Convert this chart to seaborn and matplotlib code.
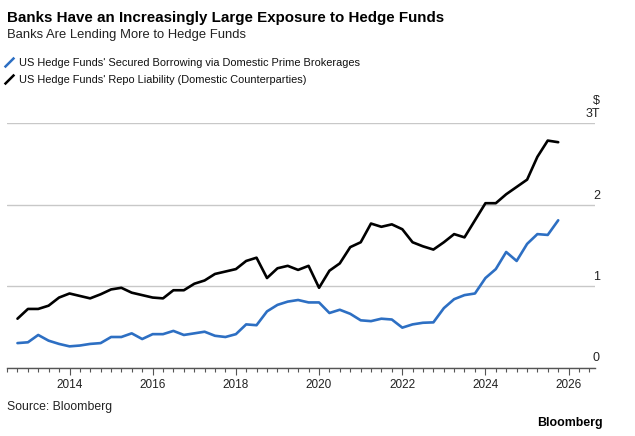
import pandas as pd
import numpy as np
import seaborn as sns
import matplotlib.pyplot as plt
import matplotlib.dates as mdates
from matplotlib.lines import Line2D
from matplotlib.transforms import blended_transform_factory

sns.set_theme(style="white")
plt.rcParams["font.family"] = ["Liberation Sans", "DejaVu Sans"]

# kwartalne punkty od IV kw. 2012 do IV kw. 2025 (bilion USD)
quarters = pd.date_range("2012-10-01", periods=53, freq="QS")
prime_brokerage = [
    0.30, 0.31, 0.40, 0.33, 0.29, 0.26, 0.27, 0.29, 0.30, 0.375,
    0.375, 0.42, 0.35, 0.41, 0.41, 0.45, 0.40, 0.42, 0.44, 0.39,
    0.375, 0.41, 0.53, 0.52, 0.69, 0.77, 0.81, 0.83, 0.80, 0.80,
    0.67, 0.71, 0.66, 0.58, 0.57, 0.60, 0.59, 0.49, 0.53, 0.55,
    0.555, 0.73, 0.84, 0.89, 0.91, 1.10, 1.21, 1.42, 1.31, 1.52,
    1.64, 1.63, 1.81,
]
repo_liability = [
    0.60, 0.72, 0.72, 0.76, 0.86, 0.91, 0.88, 0.85, 0.90, 0.96,
    0.98, 0.92, 0.89, 0.86, 0.85, 0.95, 0.95, 1.03, 1.07, 1.15,
    1.18, 1.21, 1.31, 1.35, 1.10, 1.22, 1.25, 1.20, 1.25, 0.98,
    1.19, 1.28, 1.48, 1.54, 1.77, 1.73, 1.76, 1.70, 1.54, 1.49,
    1.45, 1.54, 1.64, 1.60, 1.81, 2.02, 2.02, 2.13, 2.22, 2.31,
    2.59, 2.79, 2.77,
]
series_names = [
    "US Hedge Funds' Secured Borrowing via Domestic Prime Brokerages",
    "US Hedge Funds' Repo Liability (Domestic Counterparties)",
]
series_colors = ["#2d6fc3", "#000000"]
y_ticks = [0, 1, 2, 3]
y_labels = ["0", "1", "2", "3T"]

df = pd.concat([
    pd.DataFrame({"date": quarters, "value": prime_brokerage, "series": series_names[0]}),
    pd.DataFrame({"date": quarters, "value": repo_liability, "series": series_names[1]}),
])

fig = plt.figure(figsize=(6.35, 4.36), dpi=100)
ax = fig.add_axes([7 / 635, 1 - 367.5 / 436, 588 / 635, 244 / 436])

sns.lineplot(data=df, x="date", y="value", hue="series",
             palette=dict(zip(series_names, series_colors)),
             hue_order=series_names[::-1], linewidth=1.9, legend=False, ax=ax)

ax.set_xlim(pd.Timestamp("2012-07-01"), pd.Timestamp("2026-08-20"))
ax.set_ylim(0, 3)
ax.set_yticks(y_ticks)
ax.set_yticklabels([])
ax.tick_params(axis="y", length=0)
ax.grid(axis="y", color="#c8c8c8", linewidth=1.0)
ax.grid(axis="x", visible=False)
ax.set_xlabel("")
ax.set_ylabel("")
for side in ["top", "right", "left"]:
    ax.spines[side].set_visible(False)
ax.spines["bottom"].set_color("#555555")
ax.spines["bottom"].set_linewidth(1.0)

ax.xaxis.set_major_locator(mdates.YearLocator(2))
ax.xaxis.set_major_formatter(mdates.DateFormatter("%Y"))
ax.xaxis.set_minor_locator(mdates.MonthLocator(bymonth=[1, 4, 7, 10]))
ax.tick_params(axis="x", which="major", length=5, width=0.8, color="#555555",
               labelsize=8.5, labelcolor="#222222", pad=3, bottom=True)
ax.tick_params(axis="x", which="minor", length=3, width=0.8, color="#555555", bottom=True)

trans = blended_transform_factory(ax.transAxes, ax.transData)
for v, lab in zip(y_ticks, y_labels):
    ax.text(1.0085, v + 0.04, lab, transform=trans, ha="right", va="bottom",
            fontsize=9, color="#222222")
ax.text(1.0085, 3.2, "$", transform=trans, ha="right", va="bottom",
        fontsize=9, color="#222222")

fig.text(7 / 635, 1 - 18 / 436, "Banks Have an Increasingly Large Exposure to Hedge Funds",
         fontsize=10.9, fontweight="bold", va="center", ha="left", color="#000000")
fig.text(7 / 635, 1 - 35 / 436, "Banks Are Lending More to Hedge Funds",
         fontsize=9.4, va="center", ha="left", color="#222222")

handles = [Line2D([], [], color=c, linestyle="none", marker=[(-1, -1), (1, 1)],
                  markersize=7, markeredgewidth=1.8) for c in series_colors]
fig.legend(handles, series_names, loc="upper left", bbox_to_anchor=(0.0, 1 - 55 / 436),
           frameon=False, fontsize=7.9, handlelength=1.0, handletextpad=0.4,
           labelspacing=0.6, borderaxespad=0, borderpad=0.3, labelcolor="#111111")

fig.text(7 / 635, 1 - 407 / 436, "Source: Bloomberg", fontsize=8.8, va="center",
         ha="left", color="#222222")
fig.text(603 / 635, 1 - 423 / 436, "Bloomberg", fontsize=8.9, fontweight="bold",
         va="center", ha="right", color="#000000")

fig.savefig("out.png", dpi=100)
